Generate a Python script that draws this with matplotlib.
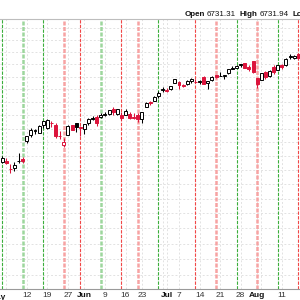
import matplotlib
matplotlib.use("Agg")
import matplotlib.pyplot as plt
import numpy as np
from matplotlib.ticker import NullLocator, FixedLocator

# ---- data (S&P 500 daily bars, May 2 - Aug 15, 2025) ----
dates = ["05-02","05-05","05-06","05-07","05-08","05-09","05-12","05-13","05-14","05-15",
         "05-16","05-19","05-20","05-21","05-22","05-23","05-27","05-28","05-29","05-30",
         "06-02","06-03","06-04","06-05","06-06","06-09","06-10","06-11","06-12","06-13",
         "06-16","06-17","06-18","06-20","06-23","06-24","06-25","06-26","06-27","06-30",
         "07-01","07-02","07-03","07-07","07-08","07-09","07-10","07-11","07-14","07-15",
         "07-16","07-17","07-18","07-21","07-22","07-23","07-24","07-25","07-28","07-29",
         "07-30","07-31","08-01","08-04","08-05","08-06","08-07","08-08","08-11","08-12",
         "08-13","08-14","08-15"]
opens = [5655.3,5665.0,5605.0,5614.0,5663.0,5679.0,5807.0,5854.0,5880.0,5870.0,
         5929.0,5902.0,5944.0,5928.0,5841.0,5781.0,5854.0,5925.0,5939.0,5903.0,
         5896.7,5938.6,5978.9,5985.7,5987.0,6004.6,6009.9,6049.4,6009.9,6000.6,
         6004.0,6012.3,5987.9,6005.2,5969.7,6061.2,6104.6,6112.1,6150.7,6193.4,
         6187.3,6199.2,6246.5,6259.0,6235.0,6242.0,6266.9,6255.7,6255.2,6295.3,
         6248.8,6270.0,6311.6,6304.7,6306.6,6326.9,6368.6,6370.0,6397.7,6409.3,
         6377.7,6427.0,6287.3,6271.7,6336.0,6309.0,6374.9,6351.6,6389.7,6395.2,
         6460.9,6453.6,6478.9]
highs = [5700.7,5683.0,5639.0,5654.0,5720.1,5691.0,5845.0,5906.0,5896.0,5924.0,
         5958.6,5968.6,5953.0,5939.0,5878.0,5829.5,5924.0,5930.0,5943.0,5922.0,
         5937.4,5981.2,5990.5,5999.7,6016.9,6021.3,6043.0,6059.4,6045.4,6026.2,
         6050.8,6023.3,6018.2,6018.2,6028.3,6101.7,6108.5,6146.5,6187.7,6215.1,
         6210.8,6227.6,6284.7,6262.3,6242.7,6269.3,6290.2,6278.1,6272.0,6302.0,
         6266.0,6304.2,6315.6,6336.1,6316.1,6360.6,6381.3,6395.8,6401.1,6409.3,
         6389.4,6427.0,6288.3,6330.0,6343.9,6349.7,6395.2,6395.2,6403.5,6446.6,
         6480.3,6473.8,6481.3]
lows = [5652.0,5640.0,5578.6,5590.0,5649.0,5650.0,5794.0,5837.0,5859.0,5867.0,
        5907.0,5895.7,5909.0,5827.7,5825.8,5767.4,5854.0,5886.0,5873.0,5843.7,
        5861.4,5929.0,5966.0,5921.2,5978.6,5994.2,6000.3,6002.3,6003.9,5963.2,
        6004.0,5974.8,5971.9,5952.6,5943.2,6059.8,6080.1,6108.4,6132.4,6178.0,
        6178.0,6193.2,6246.5,6201.0,6217.0,6231.0,6251.1,6251.6,6237.8,6241.6,
        6201.6,6265.6,6285.4,6303.5,6281.7,6317.5,6360.6,6368.5,6375.2,6365.2,
        6343.4,6327.0,6212.7,6271.7,6283.8,6300.0,6317.6,6351.6,6360.4,6385.8,
        6445.0,6441.1,6443.1]
closes = [5686.7,5650.4,5606.9,5631.3,5663.9,5659.9,5844.2,5886.6,5892.6,5916.9,
          5958.4,5963.6,5940.5,5844.6,5842.0,5802.8,5921.5,5888.6,5912.2,5911.7,
          5935.9,5970.4,5970.8,5939.3,6000.4,6005.9,6038.8,6022.2,6045.3,5977.0,
          6033.1,5982.7,5980.9,5967.8,6025.2,6092.2,6092.1,6141.0,6173.1,6205.0,
          6198.0,6227.4,6279.4,6230.0,6225.5,6263.3,6280.5,6259.8,6268.6,6243.8,
          6263.7,6297.4,6296.8,6305.6,6309.6,6358.9,6363.4,6388.6,6389.8,6370.9,
          6362.9,6339.4,6238.0,6329.9,6299.2,6345.1,6340.0,6389.5,6373.5,6445.8,
          6466.6,6468.5,6449.8]
prev_close_first = 5604.1

# weekly marker lines (date, style)
marker_dates = ["05-02","05-09","05-16","05-23","05-30","06-06","06-13","06-20",
                "06-27","07-11","07-18","07-25","08-01","08-08","08-15"]
marker_kinds = ["dg","lg","dg","lr","dr","lg","dr","lr",
                "dg","dr","lr","dg","lr","dg","dr"]

# x grid / tick labels
grid_dates = ["05-05","05-12","05-19","05-27","06-02","06-09","06-16","06-23","06-30",
              "07-01","07-07","07-14","07-21","07-28","08-01","08-04","08-11"]
tick_labels = {"05-12":"12","05-19":"19","05-27":"27","06-02":"Jun","06-09":"9",
               "06-16":"16","06-23":"23","07-01":"Jul","07-07":"7","07-14":"14",
               "07-21":"21","07-28":"28","08-01":"Aug","08-11":"11"}
month_labels = {"Jun","Jul","Aug"}
y_grid = list(range(4800, 6801, 100))

header = [("Open", True), ("6731.31", False), ("High", True), ("6731.94", False),
          ("Low", True)]

# ---- figure ----
W = H = 300
fig = plt.figure(figsize=(3, 3), dpi=100)
ax = fig.add_axes([0, 11 / H, 1, 270 / H])
ax.set_yscale("log")
ax.set_ylim(4817, 6776)
ax.set_xlim(-0.51, 72.41)

pos = {d: i for i, d in enumerate(dates)}
xs = np.arange(len(dates))

RED = "#dc143c"
BLK = "#000000"

# grid
ax.yaxis.set_major_locator(FixedLocator(y_grid))
ax.yaxis.set_minor_locator(NullLocator())
ax.set_yticklabels([])
ax.tick_params(axis="y", length=0)
gx = [pos[d] for d in grid_dates]
ax.set_xticks(gx)
ax.set_xticklabels([tick_labels.get(d, "") for d in grid_dates])
ax.grid(True, color="#e2e2e2", linestyle=(0, (2, 2)), linewidth=0.7)
ax.set_axisbelow(True)

# marker lines
styles = {
    "dg": dict(color="#3cae3c", lw=0.8, ls=(0, (3, 1.2))),
    "lg": dict(color="#9dd69d", lw=1.8, ls=(0, (1.6, 0.6))),
    "dr": dict(color="#f04848", lw=0.8, ls=(0, (3, 1.2))),
    "lr": dict(color="#f7a3a3", lw=1.8, ls=(0, (1.6, 0.6))),
}
for d, k in zip(marker_dates, marker_kinds):
    s = styles[k]
    ax.axvline(pos[d], color=s["color"], lw=s["lw"], linestyle=s["ls"], zorder=1)

# candles
prev = [prev_close_first] + closes[:-1]
for i in range(len(dates)):
    o, h, l, c = opens[i], highs[i], lows[i], closes[i]
    col = BLK if c >= prev[i] else RED
    ax.vlines(xs[i], l, h, color=col, lw=0.75, zorder=3)
    lo, hi = min(o, c), max(o, c)
    if hi - lo < 1.5:
        hi = lo + 1.5
    fc = "white" if c >= o else col
    ax.bar(xs[i], hi - lo, bottom=lo, width=0.72, facecolor=fc, edgecolor=col,
           linewidth=0.7, zorder=4)

# spines
for s in ("left", "right"):
    ax.spines[s].set_visible(False)
ax.spines["top"].set_color("#bdbdbd")
ax.spines["top"].set_linewidth(0.8)
ax.spines["bottom"].set_color("#9a9a9a")
ax.spines["bottom"].set_linewidth(0.8)

ax.tick_params(axis="x", length=0, pad=2.5, labelsize=6, colors="#333333")
for lab in ax.get_xticklabels():
    lab.set_fontfamily("Liberation Sans")
    if lab.get_text() in month_labels:
        lab.set_fontweight("bold")
        lab.set_color("#111111")

# partially visible "May" label (May 1, just left of view)
ax.text(-1, -0.018, "May", transform=ax.get_xaxis_transform(), ha="center", va="top",
        fontsize=6, fontweight="bold", family="Liberation Sans", color="#111111",
        clip_on=False)

# header text, laid out left to right
renderer = fig.canvas.get_renderer()
x = 185.0
for (t, b) in header:
    txt = fig.text(x / W, 1 - 15 / H, t, ha="left", va="center", fontsize=5.8,
                   fontweight="bold" if b else "normal", family="Liberation Sans",
                   color="#111111")
    w = txt.get_window_extent(renderer=renderer).width
    x += w + (1.5 if b else 4.0)

fig.savefig("out.png", dpi=100)
